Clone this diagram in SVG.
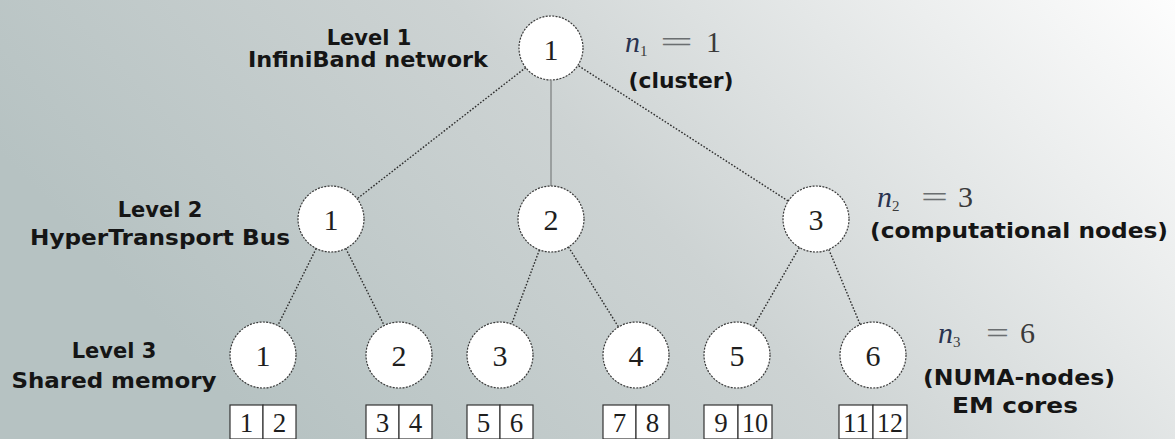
<svg xmlns="http://www.w3.org/2000/svg" width="1175" height="439" viewBox="0 0 1175 439">
  <defs>
    <linearGradient id="bg" x1="0" y1="0.35" x2="1" y2="0">
      <stop offset="0" stop-color="#b6c2c2"/>
      <stop offset="0.45" stop-color="#cdd3d3"/>
      <stop offset="0.8" stop-color="#eceeee"/>
      <stop offset="1" stop-color="#fdfdfd"/>
    </linearGradient>
    <style>
      .node circle { fill: #ffffff; stroke: #3a3a3a; stroke-width: 1.2; stroke-dasharray: 2 1.3; }
      .num { font-family: "Liberation Serif", "Times New Roman", serif; font-size: 30px; fill: #1e1e1e; text-anchor: middle; }
      .core rect { fill: #ffffff; stroke: #333333; stroke-width: 1.2; }
      .core text { font-family: "Liberation Serif", "Times New Roman", serif; font-size: 27px; fill: #1e1e1e; text-anchor: middle; }
      .lbl { font-family: "DejaVu Sans", Verdana, sans-serif; font-weight: bold; font-size: 21px; fill: #151515; text-anchor: middle; }
      .math { font-family: "Liberation Serif", "Times New Roman", serif; font-size: 30px; fill: #3a3a3a; }
      .math .v { font-style: italic; fill: #2a3350; }
      .math .s { font-size: 15px; }
      .math .eq { fill: #6a6e70; }
      .dot { stroke: #2e2e2e; stroke-width: 1.4; stroke-dasharray: 1.6 1.7; fill: none; }
      .solid { stroke: #8a8e8e; stroke-width: 1.5; fill: none; }
    </style>
  </defs>

  <rect x="0" y="0" width="1175" height="439" fill="url(#bg)"/>

  <!-- tree edges -->
  <g id="connectors">
    <line class="dot" x1="525.7" y1="67.6" x2="356.3" y2="199.4"/>
    <line class="solid" x1="551" y1="81" x2="551" y2="186"/>
    <line class="dot" x1="578.7" y1="65.9" x2="788.3" y2="201.1"/>
    <line class="dot" x1="316.2" y1="248.5" x2="277.8" y2="325.5"/>
    <line class="dot" x1="345.8" y1="248.5" x2="384.2" y2="325.5"/>
    <line class="dot" x1="539.4" y1="249.9" x2="511.6" y2="324.1"/>
    <line class="dot" x1="568.5" y1="247" x2="618.5" y2="327"/>
    <line class="dot" x1="799.4" y1="247.5" x2="753.6" y2="326.5"/>
    <line class="dot" x1="828.8" y1="249.4" x2="860.2" y2="324.6"/>
  </g>

  <!-- level 1: cluster -->
  <g id="n1-1" class="node"><circle cx="551" cy="48" r="32"/><text class="num" x="551" y="60">1</text></g>

  <!-- level 2: computational nodes -->
  <g id="n2-1" class="node"><circle cx="331" cy="219" r="33"/><text class="num" x="331" y="230">1</text></g>
  <g id="n2-2" class="node"><circle cx="551" cy="219" r="33"/><text class="num" x="551" y="230">2</text></g>
  <g id="n2-3" class="node"><circle cx="816" cy="219" r="33"/><text class="num" x="816" y="230">3</text></g>

  <!-- level 3: NUMA nodes -->
  <g id="n3-1" class="node"><circle cx="263" cy="355" r="33"/><text class="num" x="263" y="366">1</text></g>
  <g id="n3-2" class="node"><circle cx="399" cy="355" r="33"/><text class="num" x="399" y="366">2</text></g>
  <g id="n3-3" class="node"><circle cx="500" cy="355" r="33"/><text class="num" x="500" y="366">3</text></g>
  <g id="n3-4" class="node"><circle cx="636" cy="355" r="33"/><text class="num" x="636" y="366">4</text></g>
  <g id="n3-5" class="node"><circle cx="737" cy="355" r="33"/><text class="num" x="737" y="366">5</text></g>
  <g id="n3-6" class="node"><circle cx="873" cy="355" r="33"/><text class="num" x="873" y="366">6</text></g>

  <!-- cores -->
  <g id="cores-1" class="core">
    <rect x="230" y="405" width="33" height="34"/><text x="246.5" y="432">1</text>
    <rect x="263" y="405" width="33" height="34"/><text x="279.5" y="432">2</text>
  </g>
  <g id="cores-2" class="core">
    <rect x="366" y="405" width="33" height="34"/><text x="382.5" y="432">3</text>
    <rect x="399" y="405" width="33" height="34"/><text x="415.5" y="432">4</text>
  </g>
  <g id="cores-3" class="core">
    <rect x="467" y="405" width="33" height="34"/><text x="483.5" y="432">5</text>
    <rect x="500" y="405" width="33" height="34"/><text x="516.5" y="432">6</text>
  </g>
  <g id="cores-4" class="core">
    <rect x="603" y="405" width="33" height="34"/><text x="619.5" y="432">7</text>
    <rect x="636" y="405" width="33" height="34"/><text x="652.5" y="432">8</text>
  </g>
  <g id="cores-5" class="core">
    <rect x="704" y="405" width="34" height="34"/><text x="721" y="432">9</text>
    <rect x="738" y="405" width="34" height="34"/><text x="755" y="432" textLength="26" lengthAdjust="spacingAndGlyphs">10</text>
  </g>
  <g id="cores-6" class="core">
    <rect x="839" y="405" width="34" height="34"/><text x="856" y="432" textLength="26" lengthAdjust="spacingAndGlyphs">11</text>
    <rect x="873" y="405" width="34" height="34"/><text x="890" y="432" textLength="26" lengthAdjust="spacingAndGlyphs">12</text>
  </g>

  <!-- level captions -->
  <g id="caption-level1">
    <text class="lbl" x="369" y="45">Level 1</text>
    <text class="lbl" x="368" y="67" textLength="240" lengthAdjust="spacingAndGlyphs">InfiniBand network</text>
  </g>
  <g id="caption-level2">
    <text class="lbl" x="160" y="217">Level 2</text>
    <text class="lbl" x="160" y="245" textLength="260" lengthAdjust="spacingAndGlyphs">HyperTransport Bus</text>
  </g>
  <g id="caption-level3">
    <text class="lbl" x="114" y="358">Level 3</text>
    <text class="lbl" x="114" y="388" textLength="205" lengthAdjust="spacingAndGlyphs">Shared memory</text>
  </g>

  <!-- counts per level -->
  <g id="count-level1" class="math">
    <text x="625" y="52"><tspan class="v">n</tspan><tspan class="s" dy="4">1</tspan></text>
    <text class="eq" x="660" y="52" textLength="33" lengthAdjust="spacingAndGlyphs">=</text>
    <text x="706" y="52">1</text>
    <text class="lbl" x="681" y="88" textLength="105" lengthAdjust="spacingAndGlyphs">(cluster)</text>
  </g>
  <g id="count-level2" class="math">
    <text x="877" y="207"><tspan class="v">n</tspan><tspan class="s" dy="4">2</tspan></text>
    <text class="eq" x="921" y="207" textLength="27" lengthAdjust="spacingAndGlyphs">=</text>
    <text x="958" y="207">3</text>
    <text class="lbl" x="1019" y="238" textLength="298" lengthAdjust="spacingAndGlyphs">(computational nodes)</text>
  </g>
  <g id="count-level3" class="math">
    <text x="938" y="343"><tspan class="v">n</tspan><tspan class="s" dy="4">3</tspan></text>
    <text class="eq" x="986" y="343" textLength="23" lengthAdjust="spacingAndGlyphs">=</text>
    <text x="1020" y="343">6</text>
    <text class="lbl" x="1019" y="385" textLength="192" lengthAdjust="spacingAndGlyphs">(NUMA-nodes)</text>
    <text class="lbl" x="1015" y="413" textLength="126" lengthAdjust="spacingAndGlyphs">EM cores</text>
  </g>
</svg>
